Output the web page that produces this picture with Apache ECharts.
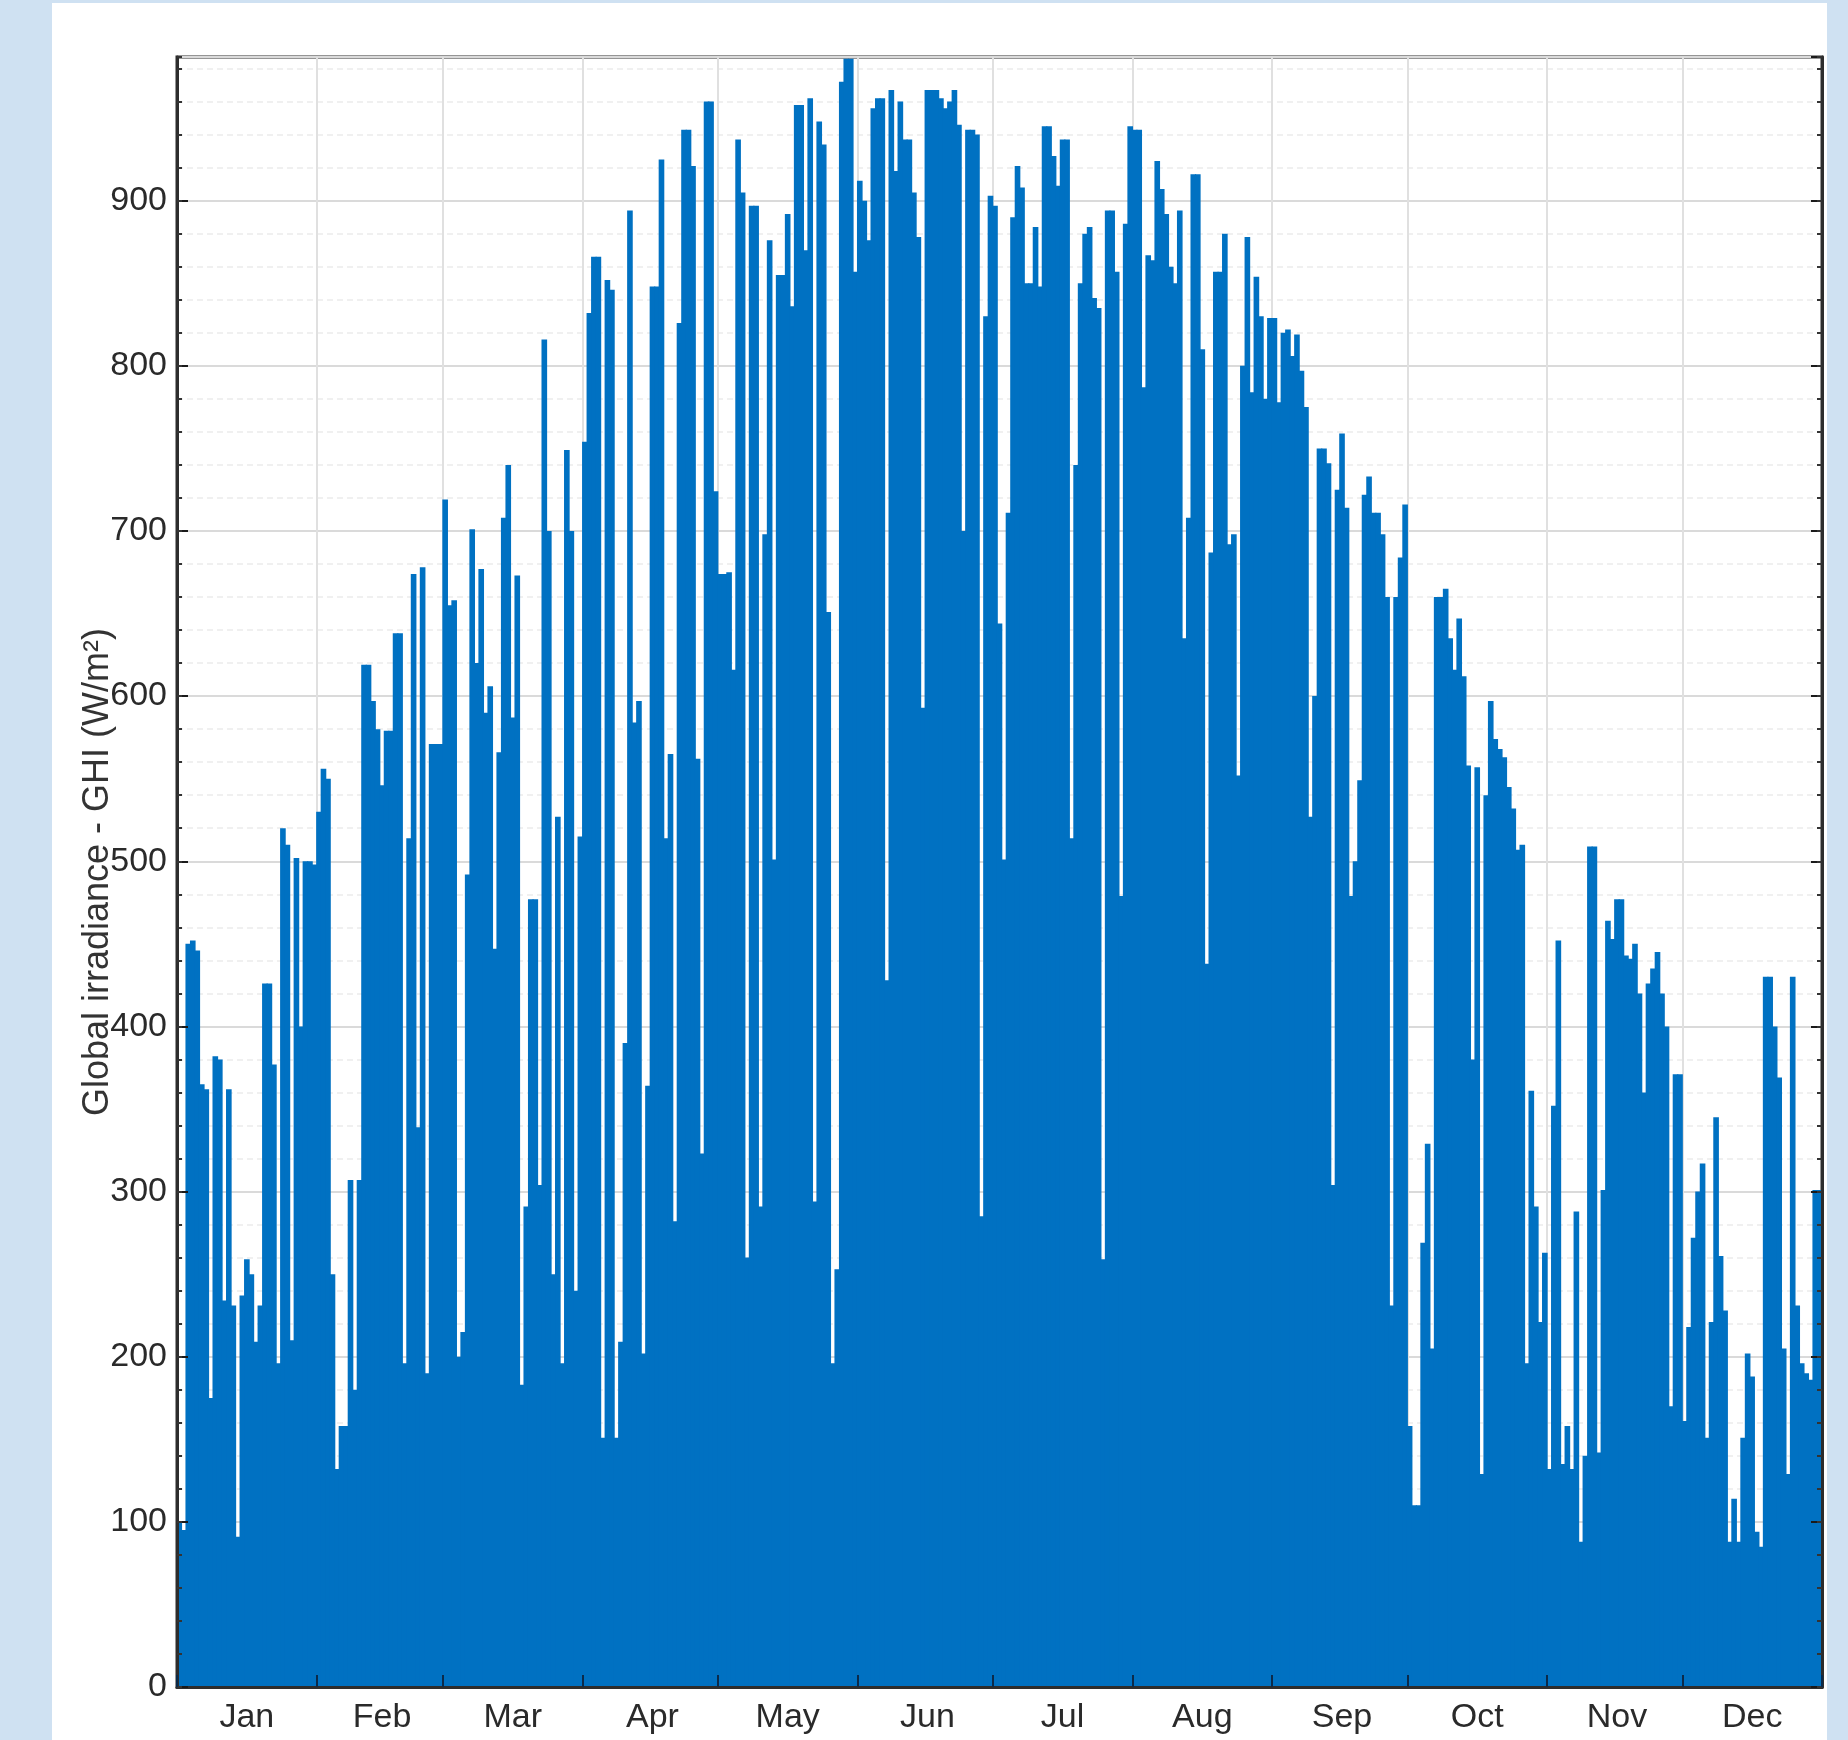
<!DOCTYPE html>
<html>
<head>
<meta charset="utf-8">
<script src="https://cdn.jsdelivr.net/npm/echarts@6/dist/echarts.min.js"></script>
<style>
html,body{margin:0;padding:0;width:1848px;height:1740px;overflow:hidden;background:#cfe1f2;}
#panel{position:absolute;left:52px;top:3px;width:1775px;height:1737px;background:#ffffff;}
#chart{position:absolute;left:0;top:0;width:1848px;height:1740px;}
</style>
</head>
<body>
<div id="panel"></div>
<div id="chart"></div>
<script>
// ---- data (daily peak global horizontal irradiance, W/m²) ----
const monthNames = ['Jan','Feb','Mar','Apr','May','Jun','Jul','Aug','Sep','Oct','Nov','Dec'];
const monthDays  = [31,28,31,30,31,30,31,31,30,31,30,31];

const ghiJan = [100,95,450,452,446,365,362,175,382,380,234,362,231,91,237,259,250,209,231,426,426,377,196,520,510,210,502,400,500,500,498];
const ghiFeb = [530,556,550,250,132,158,158,307,180,307,619,619,597,580,546,579,579,638,638,196,514,674,339,678,190,571,571,571];
const ghiMar = [719,655,658,200,215,492,701,620,677,590,606,447,566,708,740,587,673,183,291,477,477,304,816,700,250,527,196,749,700,240,515];
const ghiApr = [754,832,866,866,151,852,846,151,209,390,894,584,597,202,364,848,848,925,514,565,282,826,943,943,921,562,323,960,960,724];
const ghiMay = [674,674,675,616,937,905,260,897,897,291,698,876,501,855,855,892,836,958,958,870,962,294,948,934,651,196,253,972,986,986,857];
const ghiJun = [912,900,876,956,962,962,428,967,918,960,937,937,905,878,593,967,967,967,962,956,960,967,946,700,943,943,940,285,830,903];
const ghiJul = [897,644,501,711,890,921,908,850,850,884,848,945,945,927,909,937,937,514,740,850,880,884,841,835,259,894,894,857,479,886,945];
const ghiAug = [943,943,787,867,864,924,907,892,860,850,894,635,708,916,916,810,438,687,857,857,880,692,698,552,800,878,784,854,830,780,829];
const ghiSep = [829,778,820,822,806,819,797,775,527,600,750,750,741,304,725,759,714,479,500,549,722,733,711,711,698,660,231,660,684,716];
const ghiOct = [158,110,110,269,329,205,660,660,665,635,616,647,612,558,380,557,129,540,597,574,568,563,545,532,507,510,196,361,291,221,263];
const ghiNov = [132,352,452,135,158,132,288,88,140,509,509,142,301,464,453,477,477,443,441,450,420,360,426,435,445,420,400,170,371,371];
const ghiDec = [161,218,272,300,317,151,221,345,261,228,88,114,88,151,202,188,94,85,430,430,400,369,205,129,430,231,196,190,186,301,301];

const yMin = 0, yMax = 987, yMajor = 100, yMinor = 20;
const yTitle = 'Global irradiance - GHI (W/m²)';

// ---- build ----
const dailyGHI = [].concat(ghiJan, ghiFeb, ghiMar, ghiApr, ghiMay, ghiJun, ghiJul, ghiAug, ghiSep, ghiOct, ghiNov, ghiDec);
const categories = [];
const monthStart = new Set();
const monthMid = new Set();
let idx = 0;
monthNames.forEach((m, i) => {
  monthStart.add(idx);
  monthMid.add(idx + Math.floor(monthDays[i] / 2));
  for (let d = 1; d <= monthDays[i]; d++) categories.push(m + ' ' + d);
  idx += monthDays[i];
});
const isStart = (i) => monthStart.has(i);
const isMid = (i) => monthMid.has(i);

const labelFont = "'Liberation Sans Narrow','Liberation Sans',Arial,sans-serif";
const frame = '#2d2d2d';

const chart = echarts.init(document.getElementById('chart'), null, {renderer: 'canvas'});
const baseY = {type: 'value', min: yMin, max: yMax};
chart.setOption({
  animation: false,
  backgroundColor: 'transparent',
  grid: {left: 177, top: 57, right: 26, bottom: 53, show: true, borderColor: frame, borderWidth: 3, backgroundColor: 'transparent'},
  xAxis: [
    {
      type: 'category', data: categories, position: 'bottom', z: 5,
      axisLine: {show: true, lineStyle: {color: frame, width: 3}},
      axisTick: {show: true, inside: true, length: 12, interval: isStart, lineStyle: {color: '#0b2a4a', width: 2}},
      axisLabel: {interval: isMid, formatter: (v) => v.split(' ')[0], margin: 14, fontSize: 34, color: '#2a2a2a', fontFamily: labelFont},
      splitLine: {show: false}
    },
    {
      type: 'category', data: categories, position: 'bottom', z: 0,
      axisLine: {show: false}, axisTick: {show: false}, axisLabel: {show: false},
      splitLine: {show: true, interval: isStart, lineStyle: {color: '#e0e0e0', width: 2}}
    }
  ],
  yAxis: [
    Object.assign({}, baseY, {
      position: 'left', interval: yMajor, z: 5,
      name: yTitle, nameLocation: 'middle', nameGap: 59, nameMoveOverlap: false,
      nameTextStyle: {fontSize: 36, lineHeight: 40, color: '#333333', fontFamily: "'Liberation Sans',Arial,sans-serif"},
      axisLine: {show: true, lineStyle: {color: frame, width: 3}},
      axisTick: {show: true, inside: true, length: 11, lineStyle: {color: '#1a1a1a', width: 2}},
      axisLabel: {showMaxLabel: false, margin: 10, fontSize: 34, color: '#2a2a2a', fontFamily: labelFont},
      splitLine: {show: false}
    }),
    Object.assign({}, baseY, {
      position: 'left', interval: yMinor, z: 5,
      axisLine: {show: false}, axisLabel: {show: false}, splitLine: {show: false},
      axisTick: {show: true, inside: true, length: 5, lineStyle: {color: '#333', width: 2}}
    }),
    Object.assign({}, baseY, {
      position: 'right', interval: yMajor, z: 5,
      axisLine: {show: true, lineStyle: {color: frame, width: 3}},
      axisTick: {show: true, inside: true, length: 11, lineStyle: {color: '#1a1a1a', width: 2}},
      axisLabel: {show: false}, splitLine: {show: false}
    }),
    Object.assign({}, baseY, {
      position: 'right', interval: yMinor, z: 5,
      axisLine: {show: false}, axisLabel: {show: false}, splitLine: {show: false},
      axisTick: {show: true, inside: true, length: 5, lineStyle: {color: '#333', width: 2}}
    }),
    Object.assign({}, baseY, {
      position: 'left', interval: yMinor, z: 0,
      axisLine: {show: false}, axisLabel: {show: false}, axisTick: {show: false},
      splitLine: {show: true, lineStyle: {color: '#ebebeb', width: 1.5, type: [6, 4]}}
    }),
    Object.assign({}, baseY, {
      position: 'left', interval: yMajor, z: 0,
      axisLine: {show: false}, axisLabel: {show: false}, axisTick: {show: false},
      splitLine: {show: true, lineStyle: {color: '#dadada', width: 2}}
    })
  ],
  series: [{
    type: 'bar',
    data: dailyGHI,
    xAxisIndex: 0,
    yAxisIndex: 0,
    barWidth: '125%',
    z: 2,
    silent: true,
    itemStyle: {color: '#0071c2'}
  }]
});
</script>
</body>
</html>
